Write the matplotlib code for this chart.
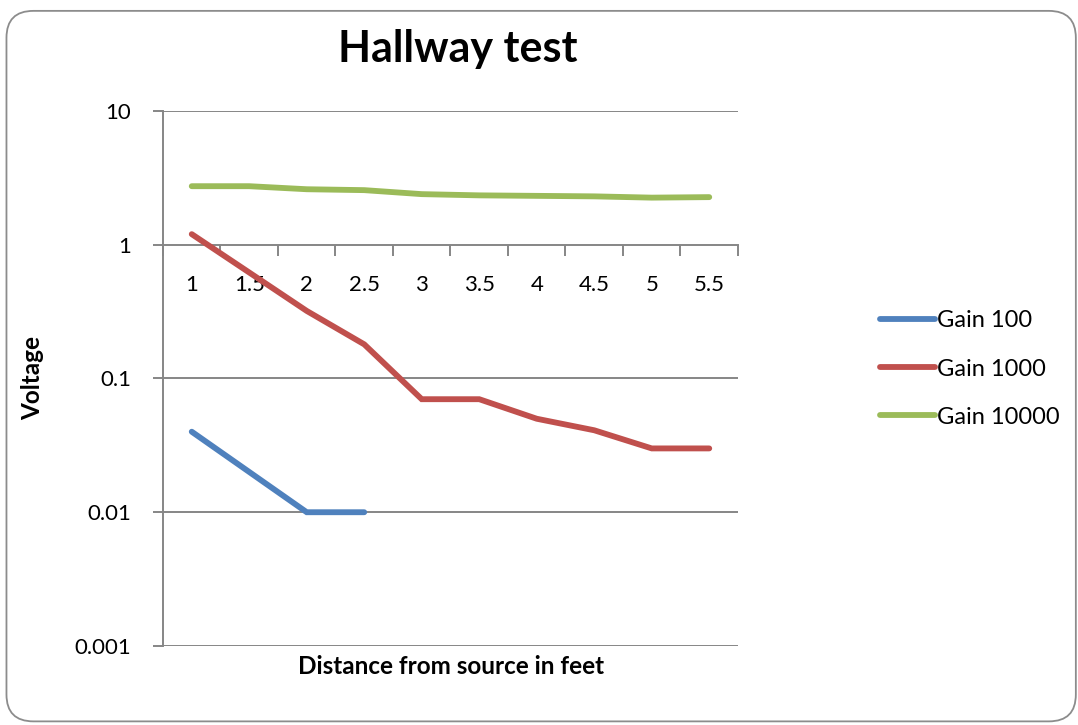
import matplotlib.pyplot as plt
import numpy as np
from matplotlib.patches import FancyBboxPatch
from matplotlib.ticker import FixedLocator, FuncFormatter

plt.rcParams['font.family'] = ['Lato', 'DejaVu Sans']

# distance in feet (category axis)
distances = ["1", "1.5", "2", "2.5", "3", "3.5", "4", "4.5", "5", "5.5"]

# measured voltage per gain setting
gain_100 = [0.04, 0.02, 0.01, 0.01]
gain_1000 = [1.2, 0.62, 0.32, 0.18, 0.07, 0.07, 0.05, 0.041, 0.03, 0.03]
gain_10000 = [2.74, 2.74, 2.6, 2.56, 2.39, 2.34, 2.32, 2.3, 2.25, 2.27]

series = [
    ("Gain 100", gain_100, "#4F81BD"),
    ("Gain 1000", gain_1000, "#C0504D"),
    ("Gain 10000", gain_10000, "#9BBB59"),
]
grid_col = "#868686"

fig = plt.figure(figsize=(10.78, 7.25), dpi=100)

# rounded chart border, kept behind the axes
border = FancyBboxPatch((0.006, 0.005), 0.992, 0.98,
                        boxstyle="round,pad=0,rounding_size=0.025",
                        transform=fig.transFigure, facecolor="none",
                        edgecolor="#8c8c8c", linewidth=1.3,
                        mutation_aspect=1078 / 725, zorder=-1)
fig.patches.append(border)

ax = fig.add_axes([0.1512, 0.109, 0.5334, 0.7379])
ax.set_facecolor("none")

x = np.arange(len(distances))
for name, vals, col in series:
    ax.plot(x[:len(vals)], vals, color=col, lw=4.2, label=name,
            solid_capstyle="round", solid_joinstyle="miter", zorder=3)

ax.set_yscale("log")
ax.set_ylim(0.001, 10)
ax.set_xlim(-0.5, len(distances) - 0.5)

# horizontal gridlines at each decade
for v in [0.001, 0.01, 0.1, 10]:
    ax.axhline(v, color=grid_col, lw=1.4, zorder=1)

ax.yaxis.set_major_locator(FixedLocator([0.001, 0.01, 0.1, 1, 10]))
ax.yaxis.set_minor_locator(FixedLocator([]))
ax.yaxis.set_major_formatter(FuncFormatter(lambda v, p: "%g" % v))
ax.tick_params(axis="y", which="major", length=7, width=1.4, color=grid_col,
               direction="out", labelsize=16, pad=16)

# category axis crosses at 1
for s in ["top", "right"]:
    ax.spines[s].set_visible(False)
ax.spines["bottom"].set_position(("data", 1))
ax.spines["bottom"].set_color(grid_col)
ax.spines["bottom"].set_linewidth(1.4)
ax.spines["left"].set_color(grid_col)
ax.spines["left"].set_linewidth(1.4)
ax.spines["left"].set_zorder(2)

ax.set_xticks(x)
ax.set_xticklabels(distances)
ax.set_xticks(np.arange(-0.5, len(distances)), minor=True)
ax.tick_params(axis="x", which="major", length=0, labelsize=16, pad=22)
ax.tick_params(axis="x", which="minor", length=8, width=1.4, color=grid_col,
               direction="out")

fig.text(0.425, 0.932, "Hallway test", ha="center", va="center",
         fontsize=31, fontweight="bold")
fig.text(0.418, 0.08, "Distance from source in feet", ha="center",
         va="center", fontsize=17.5, fontweight="bold")
fig.text(0.03, 0.479, "Voltage", ha="center", va="center", rotation=90,
         fontsize=17.5, fontweight="bold")

ax.legend(loc="center left", bbox_to_anchor=(0.808, 0.491),
          bbox_transform=fig.transFigure, frameon=False, fontsize=17,
          handlelength=2.3, handletextpad=0.1, labelspacing=1.15,
          borderaxespad=0)

fig.savefig("out.png", dpi=100)
